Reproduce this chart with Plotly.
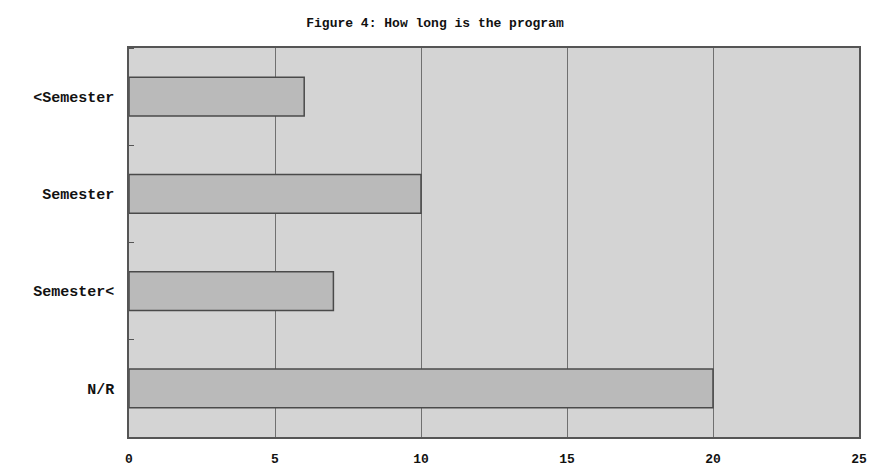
import plotly.graph_objects as go

# Survey responses: length of the program
categories = ["<Semester", "Semester", "Semester<", "N/R"]
counts = [6, 10, 7, 20]
x_ticks = [0, 5, 10, 15, 20, 25]

font_family = "Liberation Mono, Courier New, monospace"

fig = go.Figure(
    go.Bar(
        y=categories,
        x=counts,
        orientation="h",
        width=0.4,
        marker=dict(color="#bababa", line=dict(color="#4a4a4a", width=1.5)),
        hoverinfo="x+y",
    )
)

fig.update_layout(
    width=870,
    height=469,
    margin=dict(l=129, r=11, t=48, b=32, autoexpand=False),
    paper_bgcolor="white",
    plot_bgcolor="#d4d4d4",
    showlegend=False,
    title=dict(
        text="<b>Figure 4: How long is the program</b>",
        x=0.5,
        xanchor="center",
        y=0.953,
        yanchor="middle",
        font=dict(family=font_family, size=13, color="#111111"),
    ),
    bargap=0.6,
)

fig.update_xaxes(
    range=[0, 25],
    tickvals=x_ticks,
    ticktext=[f"<b>{v}</b>" for v in x_ticks],
    showgrid=True,
    gridcolor="#707070",
    gridwidth=1,
    zeroline=False,
    showline=True,
    linecolor="#555555",
    linewidth=1.5,
    mirror=True,
    ticks="",
    automargin=False,
    tickfont=dict(family=font_family, size=13, color="#111111"),
    ticklabelstandoff=9,
)

fig.update_yaxes(
    categoryorder="array",
    categoryarray=categories[::-1],
    range=[-0.5, 3.5],
    ticktext=[f"<b>{c}</b>" for c in categories],
    tickvals=categories,
    showgrid=False,
    zeroline=False,
    showline=True,
    linecolor="#555555",
    linewidth=1.5,
    mirror=True,
    ticks="",
    automargin=False,
    minor=dict(ticks="inside", ticklen=5, tickcolor="#555555",
               tickvals=[-0.5, 0.5, 1.5, 2.5, 3.5]),
    tickfont=dict(family=font_family, size=15, color="#111111"),
    ticklabelstandoff=10,
)

fig.write_html("out.html")
